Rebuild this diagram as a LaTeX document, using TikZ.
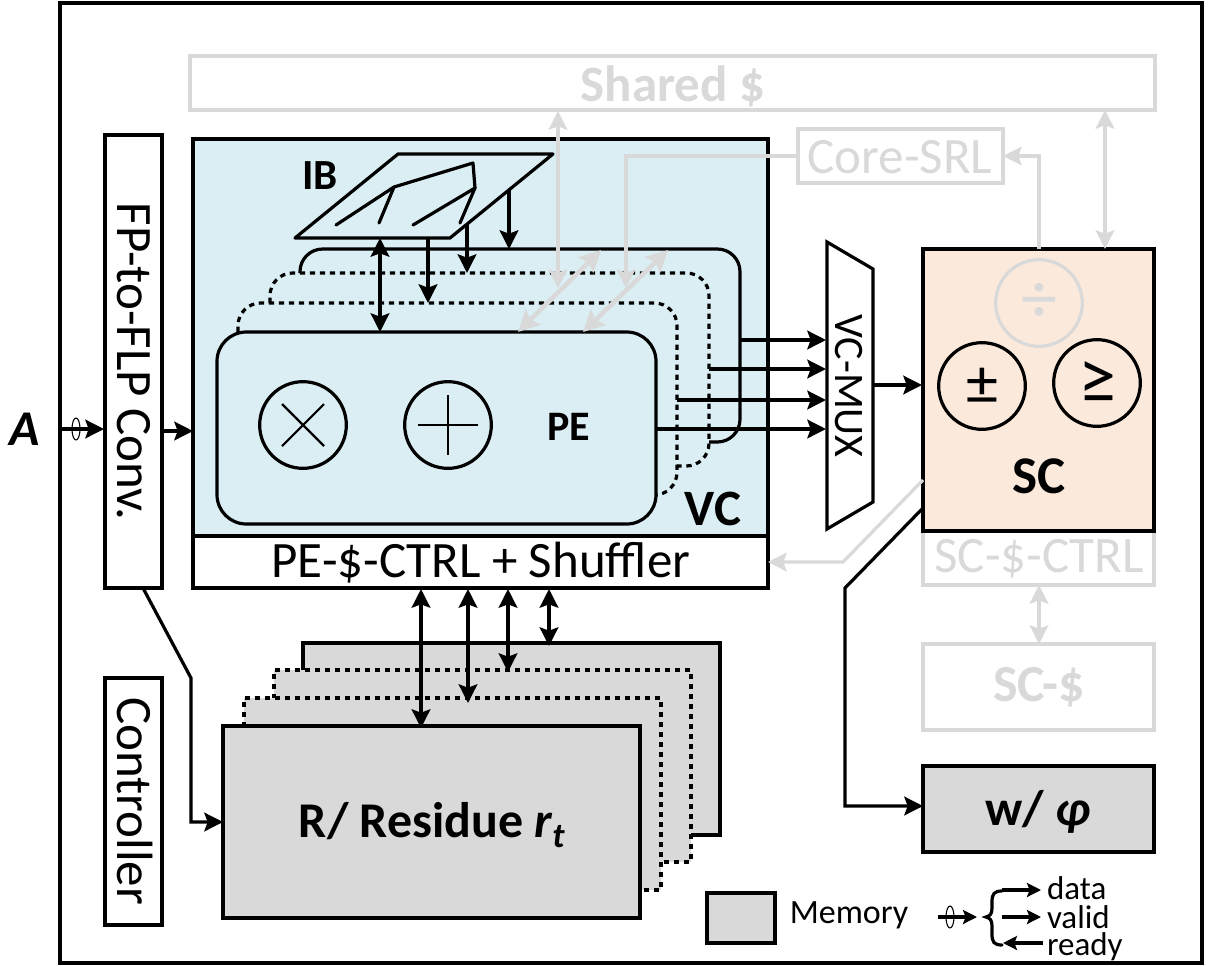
\documentclass[tikz,border=0pt]{standalone}
\usepackage{fontspec}
\setmainfont{Carlito}
\usetikzlibrary{arrows.meta,calc,shapes.geometric}
\definecolor{grayl}{HTML}{D9D9D9}
\definecolor{vcblue}{HTML}{DAEEF3}
\definecolor{scor}{HTML}{FBE9DC}
\definecolor{memg}{HTML}{D9D9D9}
\newcommand{\pxf}[1]{\pgfmathsetmacro{\ptsz}{#1*0.75}\fontsize{\ptsz pt}{\ptsz pt}\selectfont}
\newcommand{\bx}[7]{\node[#6,minimum width={(#4-#2)*0.75pt},minimum height={(#5-#3)*0.75pt}] (#1) at ({(#2+#4)/2},{(#3+#5)/2}) {#7};}
\tikzset{
  lw/.style={line width=2.4pt},
  blk/.style={line width=2.4pt,draw=black,inner sep=0pt,outer sep=0pt,rectangle},
  gry/.style={line width=2.4pt,draw=grayl,inner sep=0pt,outer sep=0pt,rectangle,text=grayl},
  conn/.style={line width=2.4pt,draw=black,-{Stealth[length=14pt,width=14pt,inset=2.5pt]}},
  sconn/.style={line width=2.4pt,draw=black,-{Stealth[length=10.5pt,width=10.5pt,inset=2pt]}},
  conn2/.style={line width=2.4pt,draw=black,{Stealth[length=14pt,width=14pt,inset=2.5pt]}-{Stealth[length=14pt,width=14pt,inset=2.5pt]}},
  gconn/.style={line width=2.4pt,draw=grayl,-{Stealth[length=14pt,width=14pt,inset=2.5pt]}},
  gconn2/.style={line width=2.4pt,draw=grayl,{Stealth[length=14pt,width=14pt,inset=2.5pt]}-{Stealth[length=14pt,width=14pt,inset=2.5pt]}},
  gdiag/.style={line width=3.4pt,draw=grayl,{Stealth[length=16pt,width=16pt,inset=3pt]}-{Stealth[length=16pt,width=16pt,inset=3pt]}},
  dsh/.style={line width=2.4pt,dash pattern=on 4pt off 3.5pt},
  circ/.style={circle,draw=black,line width=2.4pt,minimum size=65pt,inner sep=0pt,outer sep=0pt},
  legt/.style={anchor=west,inner sep=0pt,outer sep=0pt,font=\pxf{33}},
}
\begin{document}
\begin{tikzpicture}[x=0.75pt,y=-0.75pt]
\useasboundingbox (0,0) rectangle (1211,965);
\bx{frame}{60}{3}{1202}{963}{blk}{}
\bx{shared}{190}{56}{1155}{110}{gry}{}
\node[text=grayl,font=\pxf{51}\bfseries] (sharedl) at (673,86) {Shared \$};
\bx{fp}{105}{135}{162}{588}{blk,fill=white}{\rotatebox{-90}{\pxf{51}FP-to-FLP Conv.}}
\bx{ctrlr}{105}{678}{162}{925}{blk,fill=white}{}
\node[rotate=-90,font=\pxf{51}] (ctrlrl) at (135,801) {Controller};
\bx{vc}{193}{139}{768}{536}{blk,fill=vcblue}{}
\bx{pectrl}{193}{536}{768}{588}{blk,fill=white}{}
\node[font=\pxf{51}] (pectrll) at (481,563) {PE-\$-CTRL + Shuffler};
\bx{core}{798}{129}{1003}{183}{gry,fill=white}{}
\node[text=grayl,font=\pxf{51}] (corel) at (900,157) {Core-SRL};
\node[font=\pxf{43}\bfseries] (iblab) at (320,176) {IB};
\node[font=\pxf{51}\bfseries] (vclab) at (713,509) {VC};
% IB
\draw[lw,line join=round] (398,154) -- (553,154) -- (450,238) -- (295,238) -- cycle;
\draw[lw,line cap=round,line join=round] (336,225) -- (394,187) -- (473,163) -- (475,188) -- (413,225);
\draw[lw,line cap=round] (394,187) -- (379,223);
\draw[lw,line cap=round] (475,188) -- (460,223);
% PE stack
\draw[lw,rounded corners=17pt] (300,273) -- (300,249) -- (740,249) -- (740,442) -- (709,442);
\draw[dsh,rounded corners=17pt] (270,303) -- (270,273) -- (709,273) -- (709,466) -- (677,466);
\draw[dsh,rounded corners=17pt] (238,332) -- (238,303) -- (677,303) -- (677,495) -- (656,495);
\bx{pe}{217}{332}{656}{524}{blk,fill=vcblue,rounded corners=22pt}{}
\node[circ] (mul) at (303,425) {};
\node[circ] (add) at (448,425) {};
\draw[line width=1.6pt] ($(mul)+(-21,-21)$) -- ($(mul)+(21,21)$) ($(mul)+(-21,21)$) -- ($(mul)+(21,-21)$);
\draw[line width=1.6pt] ($(add)+(-30,0)$) -- ($(add)+(30,0)$) ($(add)+(0,-30)$) -- ($(add)+(0,30)$);
\node[font=\pxf{42}\bfseries] (pelab) at (569,427) {PE};
% MUX
\draw[lw,fill=white,line join=miter] (827,242) coordinate (m1) -- (873,269) coordinate (m2) -- (873,502) coordinate (m3) -- (827,529) coordinate (m4) -- cycle;
\node[rotate=-90,font=\pxf{42}] (muxl) at (849,386) {VC-MUX};
% SC
\bx{scctrl}{923}{531}{1154}{585}{gry,fill=white}{}
\node[text=grayl,font=\pxf{51}] (scctrll) at (1039,559) {SC-\$-CTRL};
\bx{sc}{923}{249}{1154}{531}{blk,fill=scor}{}
\bx{scc}{923}{644}{1154}{730}{gry}{}
\node[text=grayl,font=\pxf{52}\bfseries] (sccl) at (1039,687) {SC-\$};
\node[circ,draw=grayl,text=grayl,font=\pxf{72}] (div) at (1039,303) {÷};
\node[circ,font=\pxf{64}] (pm) at (982,386) {±};
\node[circ,font=\pxf{76}] (ge) at (1097,383) {≥};
\node[font=\pxf{53}\bfseries] (sclab) at (1039,476) {SC};
% memory
\bx{m4b}{303}{643}{720}{835}{blk,fill=memg}{}
\bx{m3b}{274}{670}{691}{862}{dsh,draw=black,inner sep=0pt,outer sep=0pt,fill=memg}{}
\bx{m2b}{244}{698}{661}{890}{dsh,draw=black,inner sep=0pt,outer sep=0pt,fill=memg}{}
\bx{m1b}{223}{726}{640}{918}{blk,fill=memg}{}
\node[font=\pxf{50}\bfseries] (m1l) at (432,825) {R/ Residue \textit{r\textsubscript{t}}};
\bx{wphi}{923}{766}{1154}{852}{blk,fill=memg}{}
\node[font=\pxf{50}\bfseries] (wphil) at (1038,812) {w/ \textit{φ}};
% named connector ends
\foreach \n/\x/\y in {a/60/429,b/104/429,c/162/431,d/193/431,
 e1/740/340,e2/709/369,e3/677/400,e4/656/429,f1/826/340,f2/826/369,f3/826/400,f4/826/429,
 g/873/385,h/922/385,
 i1/380/238,i2/380/332,j1/428/238,j2/428/303,k1/467/224,k2/467/273,l1/509/190,l2/509/249,
 n1/421/589,n2/421/728,o1/468/589,o2/468/703,p1/508/589,p2/508/672,q1/549/589,q2/549/646,
 r1/143/588,r2/191/678,r3/191/822,r4/223/822,
 s1/923/508,s2/845/588,s3/845/806,s4/923/806,
 t1/923/480,t2/843/562,t3/768/562,
 u1/1039/249,u2/1039/156,u3/1003/156,
 v1/1105/110,v2/1105/249,w1/1039/585,w2/1039/644,
 x1/558/111,x2/558/288,y1/798/156,y2/626/156,y3/626/288,
 z1/518/332,z2/601/250,z3/583/332,z4/668/250}
 {\coordinate (\n) at (\x,\y);}
\draw[conn] (a) -- (b);
\draw[line width=0.8pt] (76,429) ellipse[x radius=4,y radius=11];
\draw[conn] (c) -- (d);
\foreach \u/\v in {e1/f1,e2/f2,e3/f3,e4/f4,g/h,k1/k2,l1/l2,j1/j2}{\draw[conn] (\u) -- (\v);}
\draw[conn2] (i1) -- (i2);
\foreach \u/\v in {n1/n2,o1/o2,p1/p2,q1/q2}{\draw[conn2] (\u) -- (\v);}
\draw[conn] (r1) -- (r2) -- (r3) -- (r4);
\draw[conn] (s1) -- (s2) -- (s3) -- (s4);
\draw[gconn] (t1) -- (t2) -- (t3);
\draw[gconn] (u1) -- (u2) -- (u3);
\draw[gconn2] (v1) -- (v2);
\draw[gconn2] (w1) -- (w2);
\draw[gconn2] (x1) -- (x2);
\draw[gconn] (y1) -- (y2) -- (y3);
\draw[gdiag] (z1) -- (z2);
\draw[gdiag] (z3) -- (z4);
\node[font=\pxf{50}\bfseries\itshape] (alab) at (25,429) {A};
% legend
\bx{legbox}{707}{893}{775}{943}{blk,fill=memg}{}
\node[font=\pxf{34}] (memlab) at (849,915) {Memory};
\coordinate (la) at (938,917); \coordinate (lb) at (977,917);
\draw[sconn] (la) -- (lb);
\draw[line width=0.8pt] (950,917) ellipse[x radius=4,y radius=11];
\draw[lw,line cap=round] (1002,891) .. controls (994,891) and (992,894) .. (992,902) -- (992,908) .. controls (992,914) and (990,916) .. (986,917) .. controls (990,918) and (992,920) .. (992,926) -- (992,934) .. controls (992,942) and (994,945) .. (1002,945);
\node[legt] (ldata) at (1047,888) {data};
\node[legt] (lvalid) at (1047,917) {valid};
\node[legt] (lready) at (1047,947) {ready};
\coordinate (d1) at (1002,890); \coordinate (d2) at (1041,890);
\coordinate (e5) at (1002,917); \coordinate (e6) at (1041,917);
\coordinate (r5) at (1043,943); \coordinate (r6) at (1003,943);
\draw[sconn] (d1) -- (d2);
\draw[sconn] (e5) -- (e6);
\draw[sconn] (r5) -- (r6);
\end{tikzpicture}
\end{document}
